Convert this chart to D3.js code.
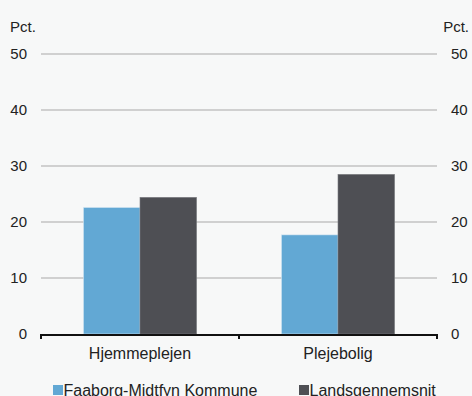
<!DOCTYPE html>
<html>
<head>
<meta charset="utf-8">
<script src="https://cdn.jsdelivr.net/npm/d3@7"></script>
<style>
  body { margin: 0; background: #f7f8f8; }
  svg { display: block; font-family: "Liberation Sans", Arial, sans-serif; }
</style>
</head>
<body>
<div id="chart"></div>
<script>
const categories = ["Hjemmeplejen", "Plejebolig"];
const seriesNames = ["Faaborg-Midtfyn Kommune", "Landsgennemsnit"];
const faaborg = [22.6, 17.7];
const landsgns = [24.4, 28.5];
const yTicks = [0, 10, 20, 30, 40, 50];
const colors = ["#62a8d4", "#4e4f54"];

(function () {
const width = 472, height = 396;
const plotLeft = 41, plotRight = 437, plotTop = 54, plotBottom = 334;

const svg = d3.select("#chart").append("svg")
  .attr("width", width)
  .attr("height", height);

const y = d3.scaleLinear().domain([0, 50]).range([plotBottom, plotTop]);
const x0 = d3.scaleBand().domain(categories).range([plotLeft, plotRight]).paddingInner(0).paddingOuter(0);
const x1 = d3.scaleBand().domain(seriesNames).range([0, x0.bandwidth()]).paddingInner(0).paddingOuter(0.75);

// gridlines
svg.append("g").selectAll("line")
  .data(yTicks.filter(d => d > 0))
  .enter().append("line")
  .attr("x1", plotLeft).attr("x2", plotRight)
  .attr("y1", d => y(d)).attr("y2", d => y(d))
  .attr("stroke", "#c3c3c3")
  .attr("stroke-width", 1.3);

// tick labels both sides
svg.append("g").selectAll("text")
  .data(yTicks).enter().append("text")
  .attr("x", 27).attr("y", d => y(d))
  .attr("dy", "0.35em")
  .attr("text-anchor", "end")
  .attr("font-size", 15)
  .attr("fill", "#222")
  .text(d => d);

svg.append("g").selectAll("text")
  .data(yTicks).enter().append("text")
  .attr("x", 451).attr("y", d => y(d))
  .attr("dy", "0.35em")
  .attr("text-anchor", "start")
  .attr("font-size", 15)
  .attr("fill", "#222")
  .text(d => d);

svg.append("text").attr("x", 10).attr("y", 27).attr("dy", "0.35em")
  .attr("font-size", 15).attr("fill", "#222").text("Pct.");
svg.append("text").attr("x", 469).attr("y", 27).attr("dy", "0.35em")
  .attr("text-anchor", "end")
  .attr("font-size", 15).attr("fill", "#222").text("Pct.");

// bars
const data = categories.map((c, i) => ({ cat: c, values: [faaborg[i], landsgns[i]] }));

const groups = svg.append("g").selectAll("g")
  .data(data).enter().append("g")
  .attr("transform", d => `translate(${x0(d.cat)},0)`);

groups.selectAll("rect")
  .data(d => d.values.map((v, j) => ({ name: seriesNames[j], value: v, j })))
  .enter().append("rect")
  .attr("x", d => x1(d.name))
  .attr("width", x1.bandwidth())
  .attr("y", d => y(d.value))
  .attr("height", d => plotBottom - y(d.value))
  .attr("fill", d => colors[d.j])
  .attr("stroke", d => d.j === 0 ? "#d6e8f3" : "#7a7b7f")
  .attr("stroke-width", 0.6);

// x axis
svg.append("line")
  .attr("x1", plotLeft).attr("x2", plotRight)
  .attr("y1", plotBottom + 1).attr("y2", plotBottom + 1)
  .attr("stroke", "#111").attr("stroke-width", 2);

const tickXs = categories.map(c => x0(c)).concat([plotRight]);
svg.append("g").selectAll("line")
  .data(tickXs).enter().append("line")
  .attr("x1", d => d).attr("x2", d => d)
  .attr("y1", plotBottom).attr("y2", plotBottom + 5)
  .attr("stroke", "#111").attr("stroke-width", 2);

svg.append("g").selectAll("text")
  .data(categories).enter().append("text")
  .attr("x", d => x0(d) + x0.bandwidth() / 2)
  .attr("y", 353).attr("dy", "0.35em")
  .attr("text-anchor", "middle")
  .attr("font-size", 16).attr("fill", "#222")
  .text(d => d);

// legend (cut at the bottom edge, as in the source)
const legendX = [53, 299];
const legend = svg.append("g").selectAll("g")
  .data(seriesNames).enter().append("g")
  .attr("transform", (d, i) => `translate(${legendX[i]},385)`);

legend.append("rect")
  .attr("width", 10).attr("height", 10)
  .attr("fill", (d, i) => colors[i]);

legend.append("text")
  .attr("x", 10.5).attr("y", 11)
  .attr("font-size", 16).attr("fill", "#222")
  .text(d => d);
})();
</script>
</body>
</html>
